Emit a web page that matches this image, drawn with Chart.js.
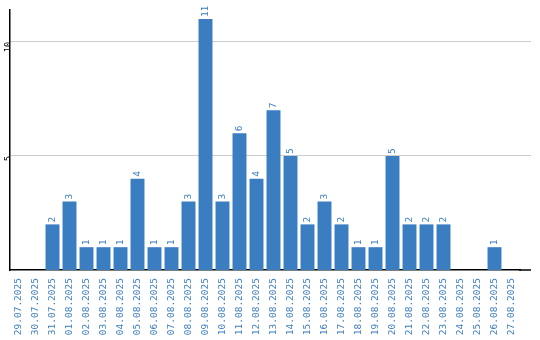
<!DOCTYPE html>
<html>
<head>
<meta charset="utf-8">
<script src="https://cdn.jsdelivr.net/npm/chart.js@4"></script>
<style>
  html, body { margin: 0; padding: 0; background: #fff; }
  #wrap { width: 540px; height: 340px; }
</style>
</head>
<body>
<div id="wrap"><canvas id="chart"></canvas></div>
<script>
const labels = ['29.07.2025', '30.07.2025', '31.07.2025', '01.08.2025', '02.08.2025', '03.08.2025',
    '04.08.2025', '05.08.2025', '06.08.2025', '07.08.2025', '08.08.2025', '09.08.2025', '10.08.2025',
    '11.08.2025', '12.08.2025', '13.08.2025', '14.08.2025', '15.08.2025', '16.08.2025', '17.08.2025',
    '18.08.2025', '19.08.2025', '20.08.2025', '21.08.2025', '22.08.2025', '23.08.2025', '24.08.2025',
    '25.08.2025', '26.08.2025', '27.08.2025'];
const counts = [0, 0, 2, 3, 1, 1, 1, 4, 1, 1, 3, 11, 3, 6, 4, 7, 5, 2, 3, 2, 1, 1, 5, 2, 2, 2, 0, 0, 1, 0];
const yTicks = [5, 10];

const BLUE = '#3b7dc1';
const EXTRA_RIGHT = 11; // grid and axis run a little past the last category

// value labels above bars, rotated like the axis labels
const valueLabels = {
    id: 'valueLabels',
    afterDatasetsDraw(chart) {
        const ctx = chart.ctx;
        const meta = chart.getDatasetMeta(0);
        ctx.save();
        ctx.fillStyle = BLUE;
        ctx.font = '9.5px "DejaVu Sans Mono"';
        ctx.textAlign = 'left';
        ctx.textBaseline = 'middle';
        meta.data.forEach((bar, i) => {
            if (!counts[i]) return;
            ctx.save();
            ctx.translate(bar.x, bar.y - 2);
            ctx.rotate(-Math.PI / 2);
            ctx.fillText(String(counts[i]), 0, 0);
            ctx.restore();
        });
        ctx.restore();
    }
};

// stretch y grid lines and the x axis line to the right edge
const extendLines = {
    id: 'extendLines',
    beforeDatasetsDraw(chart) {
        const { ctx, chartArea, scales } = chart;
        ctx.save();
        ctx.strokeStyle = '#cccccc';
        ctx.lineWidth = 1;
        yTicks.forEach(v => {
            const y = Math.round(scales.y.getPixelForValue(v) - 0.5) + 0.5;
            ctx.beginPath();
            ctx.moveTo(chartArea.right, y);
            ctx.lineTo(chartArea.right + EXTRA_RIGHT, y);
            ctx.stroke();
        });
        ctx.strokeStyle = '#000';
        ctx.lineWidth = 1.5;
        ctx.beginPath();
        ctx.moveTo(chartArea.right - 1, chartArea.bottom);
        ctx.lineTo(chartArea.right + EXTRA_RIGHT, chartArea.bottom);
        ctx.stroke();
        ctx.restore();
    }
};

new Chart(document.getElementById('chart'), {
    type: 'bar',
    data: {
        labels: labels,
        datasets: [{
            data: counts,
            backgroundColor: BLUE,
            barPercentage: 0.82,
            categoryPercentage: 1
        }]
    },
    options: {
        responsive: true,
        maintainAspectRatio: false,
        animation: false,
        layout: { padding: { top: 10, right: 9 + EXTRA_RIGHT, left: 0, bottom: 4 } },
        plugins: { legend: { display: false }, tooltip: { enabled: false } },
        scales: {
            x: {
                afterFit(scale) { scale.height = 66; },
                grid: { display: false },
                border: { color: '#000', width: 1.5 },
                ticks: {
                    color: BLUE,
                    font: { family: 'DejaVu Sans Mono', size: 9.5 },
                    minRotation: 90,
                    maxRotation: 90,
                    autoSkip: false,
                    padding: 0
                }
            },
            y: {
                min: 0,
                max: 11.4,
                afterBuildTicks(scale) {
                    scale.ticks = yTicks.map(v => ({ value: v }));
                },
                afterFit(scale) { scale.width = 10; },
                grid: { color: '#cccccc', drawTicks: false },
                border: { color: '#000', width: 1.5 },
                ticks: {
                    color: '#000',
                    font: { family: 'DejaVu Sans Mono', size: 8.5 },
                    minRotation: 90,
                    maxRotation: 90,
                    padding: 1
                }
            }
        }
    },
    plugins: [extendLines, valueLabels]
});
</script>
</body>
</html>
